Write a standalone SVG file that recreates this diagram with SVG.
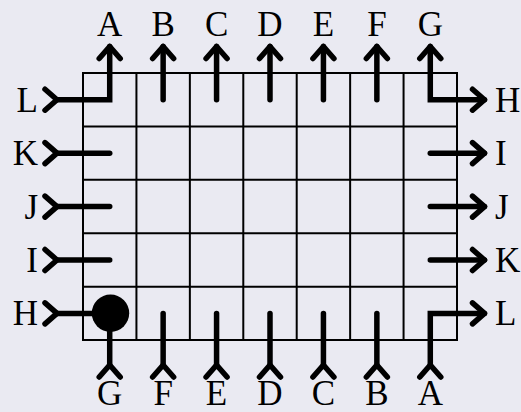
<svg xmlns="http://www.w3.org/2000/svg" width="521" height="412" viewBox="0 0 521 412">
<style>
  .grid line { stroke: #000; stroke-width: 2; }
  .wire { fill: none; stroke: #000; stroke-width: 5.5; stroke-linecap: round; stroke-linejoin: miter; }
  .lbl { font-family: "Liberation Serif", "Times New Roman", serif; font-size: 35px; fill: #000; }
  .top, .bot { text-anchor: middle; }
  .left { text-anchor: end; }
  .right { text-anchor: start; }
</style>
<defs>
  <marker id="head" markerUnits="userSpaceOnUse" markerWidth="30" markerHeight="30" refX="0" refY="0" orient="auto-start-reverse" overflow="visible">
    <path d="M -12,-10.5 L 0,0 L -12,10.5" fill="none" stroke="#000" stroke-width="5.5" stroke-linecap="round" stroke-linejoin="round"/>
  </marker>
  <marker id="tail" markerUnits="userSpaceOnUse" markerWidth="30" markerHeight="30" refX="0" refY="0" orient="auto" overflow="visible">
    <path d="M -12,-10.5 L 0,0 L -12,10.5" fill="none" stroke="#000" stroke-width="5.5" stroke-linecap="round" stroke-linejoin="round"/>
  </marker>
</defs>
<rect width="521" height="412" fill="#eaeaf2"/>
<g id="grid" class="grid">
  <line x1="83" y1="73" x2="83" y2="340"/>
  <line x1="136.43" y1="73" x2="136.43" y2="340"/>
  <line x1="189.86" y1="73" x2="189.86" y2="340"/>
  <line x1="243.29" y1="73" x2="243.29" y2="340"/>
  <line x1="296.71" y1="73" x2="296.71" y2="340"/>
  <line x1="350.14" y1="73" x2="350.14" y2="340"/>
  <line x1="403.57" y1="73" x2="403.57" y2="340"/>
  <line x1="457" y1="73" x2="457" y2="340"/>
  <line x1="82" y1="73" x2="458" y2="73"/>
  <line x1="82" y1="126.43" x2="458" y2="126.43"/>
  <line x1="82" y1="179.86" x2="458" y2="179.86"/>
  <line x1="82" y1="233.29" x2="458" y2="233.29"/>
  <line x1="82" y1="286.71" x2="458" y2="286.71"/>
  <line x1="82" y1="340" x2="458" y2="340"/>
</g>
<g id="connectors">
  <path class="wire" d="M 57,99.71 H 109.71 V 46.5" marker-start="url(#tail)" marker-end="url(#head)"/>
  <path class="wire" d="M 163.14,99.71 V 46.5" marker-end="url(#head)"/>
  <path class="wire" d="M 216.57,99.71 V 46.5" marker-end="url(#head)"/>
  <path class="wire" d="M 270,99.71 V 46.5" marker-end="url(#head)"/>
  <path class="wire" d="M 323.43,99.71 V 46.5" marker-end="url(#head)"/>
  <path class="wire" d="M 376.86,99.71 V 46.5" marker-end="url(#head)"/>
  <path class="wire" d="M 430.29,46.5 V 99.71 H 484.5" marker-start="url(#head)" marker-end="url(#head)"/>
  <path class="wire" d="M 57,153.14 H 109.71" marker-start="url(#tail)"/>
  <path class="wire" d="M 57,206.57 H 109.71" marker-start="url(#tail)"/>
  <path class="wire" d="M 57,260 H 109.71" marker-start="url(#tail)"/>
  <path class="wire" d="M 57,313.43 H 109.71" marker-start="url(#tail)"/>
  <path class="wire" d="M 430.29,153.14 H 484.5" marker-end="url(#head)"/>
  <path class="wire" d="M 430.29,206.57 H 484.5" marker-end="url(#head)"/>
  <path class="wire" d="M 430.29,260 H 484.5" marker-end="url(#head)"/>
  <path class="wire" d="M 109.71,365 V 313.43" marker-start="url(#tail)"/>
  <path class="wire" d="M 163.14,365 V 313.43" marker-start="url(#tail)"/>
  <path class="wire" d="M 216.57,365 V 313.43" marker-start="url(#tail)"/>
  <path class="wire" d="M 270,365 V 313.43" marker-start="url(#tail)"/>
  <path class="wire" d="M 323.43,365 V 313.43" marker-start="url(#tail)"/>
  <path class="wire" d="M 376.86,365 V 313.43" marker-start="url(#tail)"/>
  <path class="wire" d="M 430.29,365 V 313.43 H 484.5" marker-start="url(#tail)" marker-end="url(#head)"/>
</g>
<g id="dot">
  <circle cx="110.5" cy="313.2" r="18.7" fill="#000"/>
</g>
<g id="labels-top" class="lbl top">
  <text x="109.71" y="36">A</text>
  <text x="163.14" y="36">B</text>
  <text x="216.57" y="36">C</text>
  <text x="270" y="36">D</text>
  <text x="323.43" y="36">E</text>
  <text x="376.86" y="36">F</text>
  <text x="430.29" y="36">G</text>
</g>
<g id="labels-left" class="lbl left">
  <text x="38" y="111.7">L</text>
  <text x="38" y="165.1">K</text>
  <text x="38" y="218.6">J</text>
  <text x="38" y="272">I</text>
  <text x="38" y="325.4">H</text>
</g>
<g id="labels-right" class="lbl right">
  <text x="495" y="111.7">H</text>
  <text x="495" y="165.1">I</text>
  <text x="495" y="218.6">J</text>
  <text x="495" y="272">K</text>
  <text x="495" y="325.4">L</text>
</g>
<g id="labels-bottom" class="lbl bot">
  <text x="109.71" y="404.5">G</text>
  <text x="163.14" y="404.5">F</text>
  <text x="216.57" y="404.5">E</text>
  <text x="270" y="404.5">D</text>
  <text x="323.43" y="404.5">C</text>
  <text x="376.86" y="404.5">B</text>
  <text x="430.29" y="404.5">A</text>
</g>
</svg>
